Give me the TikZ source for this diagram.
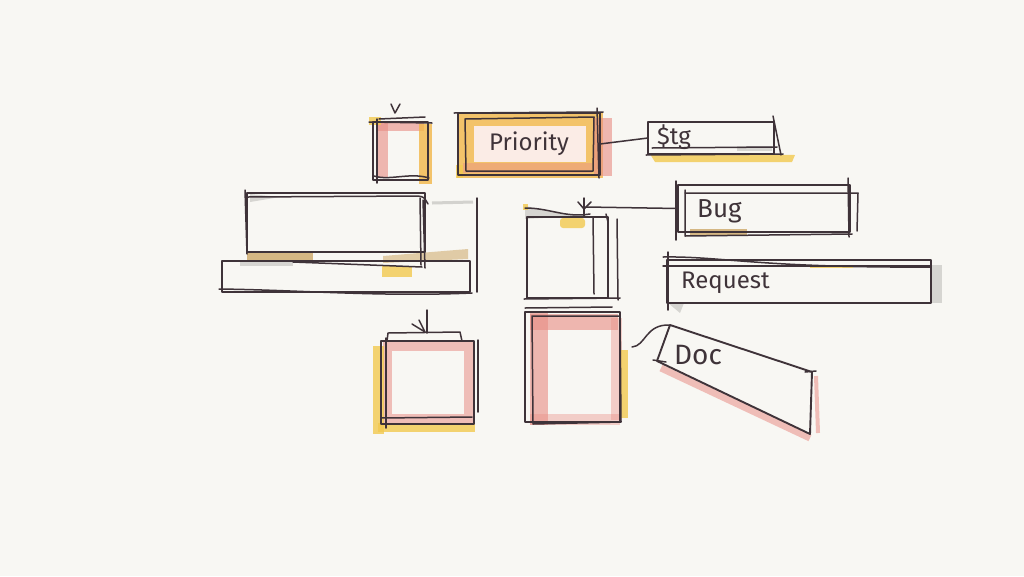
\documentclass[tikz,border=0pt]{standalone}
\usepackage{fontspec}
\setmainfont{Fira Sans}
\usetikzlibrary{calc}
\definecolor{bg}{HTML}{F8F7F3}
\definecolor{ink}{HTML}{3F3339}
\definecolor{washred}{HTML}{E98F86}
\definecolor{washorange}{HTML}{F2B748}
\definecolor{washyellow}{HTML}{F2C94F}
\definecolor{washtan}{HTML}{CDA868}
\definecolor{washgrey}{HTML}{D3D2CE}
\definecolor{pinkfill}{HTML}{FBECE6}
\tikzset{
  inkline/.style={draw=ink, line width=1.9pt, line cap=round, line join=round},
  thinink/.style={draw=ink, line width=1.5pt, line cap=round, line join=round},
  boxnode/.style={inkline, rectangle, inner sep=0pt, outer sep=0pt},
  lbl/.style={font=\fontsize{24}{28}\selectfont, text=ink, inner sep=0pt},
  wred/.style={fill=washred, fill opacity=0.62},
  wredline/.style={draw=washred, draw opacity=0.55},
  worange/.style={fill=washorange, fill opacity=0.8},
  wyellow/.style={fill=washyellow, fill opacity=0.8},
  wtan/.style={fill=washtan, fill opacity=0.8},
  wgrey/.style={fill=washgrey, fill opacity=0.9},
}
\begin{document}
\begin{tikzpicture}[x=1pt,y=-1pt]
\fill[bg] (0,0) rectangle (1024,576);
\useasboundingbox (0,0) rectangle (1024,576);

% ---------- small square top ----------
\fill[wred] (376,122) rectangle (388,178);
\fill[wred] (376,121) rectangle (424,131);
\fill[worange] (419,124) rectangle (432,184);
\fill[wyellow] (369,117) rectangle (381,125);
\node[boxnode, minimum width=55pt, minimum height=58pt] (sqA) at (400.5,151) {};
\draw[thinink] (379,119) -- (425,117);
\draw[thinink] (369,122) -- (432,123);
\draw[thinink] (374,176) .. controls (390,181) and (410,172) .. (429,178);
\draw[thinink] (377,119) -- (377,183);
\draw[thinink] (391,104) -- (395,113) -- (400,104);

% ---------- Priority ----------
\fill[worange] (457,112) rectangle (603,178);
\fill[wred] (594,118) rectangle (612,176);
\fill[wred, fill opacity=0.45] (463,163) rectangle (592,173);
\fill[pinkfill] (474,126) rectangle (586,162);
\fill[wyellow] (456,165) rectangle (463,178);
\node[boxnode, minimum width=142pt, minimum height=62pt, lbl] (prio) at (529,144) {Priority};
\draw[thinink] (465,119) -- (594,117) -- (593,171) -- (466,171) -- cycle;
\draw[thinink] (454,113) -- (603,112);
\draw[thinink] (597,108) -- (599,178);

% ---------- $tg ----------
\fill[wyellow] (650,154) -- (795,155) -- (792,162) -- (655,162) -- cycle;
\fill[wgrey] (737,146) rectangle (772,151);
\node[boxnode, minimum width=126pt, minimum height=32pt] (tg) at (711,138) {};
\node[lbl, anchor=west] (tglabel) at (657,137) {\$tg};
\draw[thinink] (773,116) -- (781,155);
\draw[thinink] (652,148) -- (777,147);
\draw[thinink] (646,155) -- (783,154);
\draw[thinink] (prio.east) -- (tg.west);

% ---------- big left boxes ----------
\fill[wtan] (247,251) rectangle (313,260);
\fill[wtan, fill opacity=0.55] (383,256) -- (468,249) -- (468,259) -- (383,263) -- cycle;
\fill[wyellow] (382,266) rectangle (412,277);
\fill[wgrey] (250,194) -- (280,197) -- (250,202) -- cycle;
\fill[wgrey] (240,262) rectangle (293,266);
\draw[draw=washgrey, line width=3pt] (432,203) -- (473,202);
\node[boxnode, minimum width=178pt, minimum height=59pt] (bigA) at (336,222.5) {};
\node[boxnode, minimum width=248pt, minimum height=31pt] (bigB) at (346,276.5) {};
\draw[thinink] (248,197) -- (418,196) .. controls (424,197) .. (428,204);
\draw[thinink] (423,200) -- (425,268);
\draw[thinink] (420,198) -- (421,265);
\draw[thinink] (293,262) -- (422,267);
\draw[thinink] (219,289) .. controls (300,290) and (380,297) .. (472,293);
\draw[thinink] (477,198) -- (477,292);
\draw[thinink] (245,190) -- (247,254);

% ---------- middle box ----------
\fill[wgrey] (525,206) -- (578,216) -- (525,219) -- cycle;
\fill[wyellow, rounded corners=3pt] (560,218) rectangle (585,228);
\fill[wyellow] (523,204) rectangle (528,210);
\node[boxnode, minimum width=81pt, minimum height=81pt] (mid) at (567.5,257.5) {};
\draw[thinink] (525,208) .. controls (550,208) and (565,218) .. (590,214);
\draw[thinink] (593,217) -- (594,294);
\draw[thinink] (617,219) -- (618,300);
\draw[thinink] (524,299) -- (620,298);
\draw[thinink] (606,214) -- (608,222);
\coordinate (midtop) at (586,207);
\draw[thinink] (584,198) -- (584,217);
\draw[thinink] (578,202) -- (584,209) -- (591,202);

% ---------- Bug ----------
\fill[wtan] (690,229) rectangle (747,236);
\node[boxnode, minimum width=172pt, minimum height=47pt] (bug) at (764,208.5) {};
\node[lbl, font=\fontsize{26}{30}\selectfont, anchor=west] (buglabel) at (697,211) {Bug};
\draw[thinink] (685,193) -- (858,193) -- (857,231);
\draw[thinink] (685,190) -- (685,236) -- (852,234);
\draw[thinink] (676,181) -- (676,240);
\draw[thinink] (848,178) -- (849,237);
\draw[thinink] (midtop) -- (bug.west);

% ---------- Request ----------
\fill[wgrey] (932,265) rectangle (942,303);
\fill[wgrey] (668,303) -- (684,303) -- (680,313) -- cycle;
\fill[wyellow] (810,265) rectangle (853,268);
\node[boxnode, minimum width=264pt, minimum height=43pt] (req) at (799,281.5) {};
\node[lbl, anchor=west] (reqlabel) at (681,283) {Request};
\draw[thinink] (663,257) .. controls (720,256) and (760,268) .. (930,267);
\draw[thinink] (663,266) -- (930,266);
\draw[thinink] (668,252) -- (668,310);

% ---------- bottom-left square ----------
\draw[wredline, line width=9pt] (387,346) rectangle (468,418);
\fill[wyellow] (373,346) rectangle (384,434);
\fill[wyellow] (378,423) rectangle (475,432);
\node[boxnode, minimum width=93pt, minimum height=83pt] (sqB) at (427.5,382.5) {};
\draw[thinink] (478,340) -- (478,412);
\draw[thinink] (386,338) -- (386,428);
\draw[thinink] (381,418) -- (472,417);
\draw[thinink] (387,341) -- (388,333) -- (460,332) -- (462,341);
\coordinate (arrB) at (427,310);
\draw[thinink] (arrB) -- (427,333);
\draw[thinink] (412,324) -- (425,332) -- (419,320);

% ---------- bottom-middle box ----------
\fill[wred] (530,313) rectangle (548,425);
\fill[wred] (530,314) rectangle (618,330);
\fill[wred, fill opacity=0.4] (611,318) rectangle (622,420);
\fill[wred, fill opacity=0.4] (530,414) rectangle (620,425);
\fill[wyellow] (621,350) rectangle (628,418);
\node[boxnode, minimum width=95pt, minimum height=110pt] (boxC) at (572.5,367) {};
\draw[thinink] (532,316) -- (620,316) -- (621,422) -- (533,424) -- cycle;
\draw[thinink] (525,308) -- (612,307);

% ---------- Doc ----------
\coordinate (docTL) at (670,325);
\coordinate (docTR) at (812,372);
\coordinate (docBR) at (810,434);
\coordinate (docBL) at (657,361);
\draw[wredline, line width=7pt] (661,368) -- (810,438);
\draw[wredline, line width=4pt] (816,376) -- (818,433);
\draw[inkline] (docTL) -- (docTR) -- (docBR) -- (docBL) -- cycle;
\draw[thinink] (653,360) -- (666,362);
\draw[thinink] (805,372) -- (816,371);
\node[lbl, font=\fontsize{28}{32}\selectfont] (doclabel) at (698,355) {Doc};
\coordinate (doccurve) at (632,347);
\draw[thinink] (doccurve) .. controls (646,346) and (645,324) .. (docTL);
\end{tikzpicture}
\end{document}
